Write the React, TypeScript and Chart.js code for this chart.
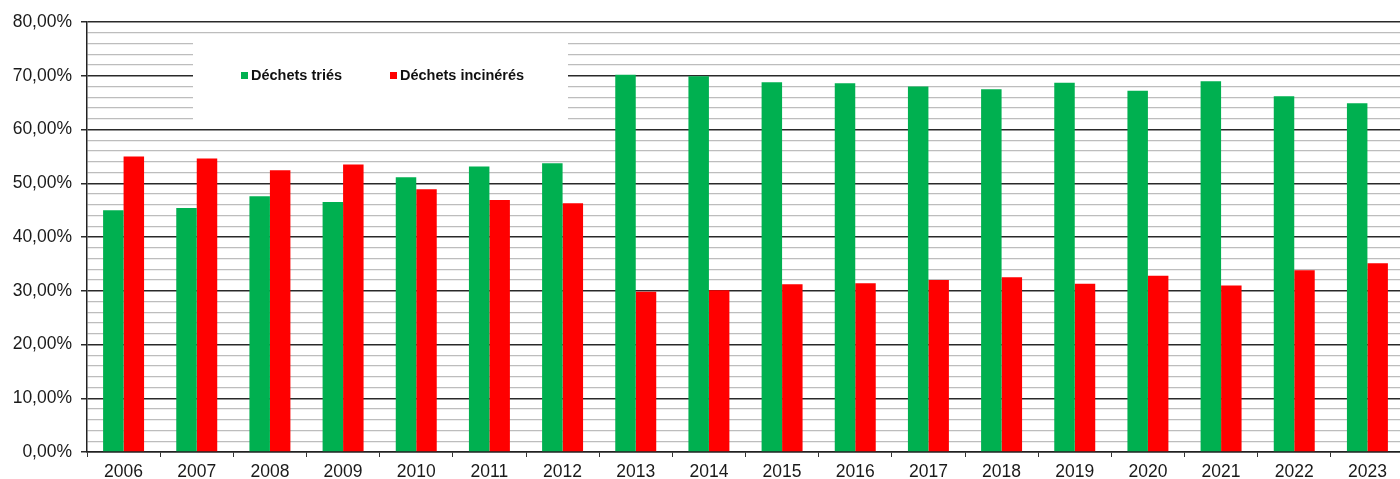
import React, { useEffect, useRef } from "react";
import { Chart, registerables } from "chart.js";

Chart.register(...registerables);

const years = ["2006","2007","2008","2009","2010","2011","2012","2013","2014","2015","2016","2017","2018","2019","2020","2021","2022","2023"];
const triés = [45.0,45.4,47.6,46.5,51.1,53.1,53.7,70.2,69.9,68.8,68.6,68.0,67.5,68.7,67.2,69.0,66.2,64.9];
const incinérés = [55.0,54.6,52.4,53.5,48.9,46.9,46.3,29.8,30.1,31.2,31.4,32.0,32.5,31.3,32.8,31.0,33.8,35.1];
const seriesNames = ["Déchets triés", "Déchets incinérés"];
const seriesColors = ["#00b050", "#ff0000"];

const FONT = "'Liberation Sans', Arial, sans-serif";

const legendBox = {
  id: "legendBox",
  afterDatasetsDraw(chart: any) {
    const ctx = chart.ctx;
    ctx.save();
    ctx.fillStyle = "#ffffff";
    ctx.fillRect(193, 34, 375, 93);
    ctx.font = `bold 14.5px ${FONT}`;
    ctx.textBaseline = "middle";
    ctx.textAlign = "left";
    const items = [
      { x: 241, label: seriesNames[0], color: seriesColors[0] },
      { x: 390, label: seriesNames[1], color: seriesColors[1] },
    ];
    for (const it of items) {
      ctx.fillStyle = it.color;
      ctx.fillRect(it.x, 72, 7, 7);
      ctx.fillStyle = "#111";
      ctx.fillText(it.label, it.x + 10, 76);
    }
    ctx.restore();
  },
};

export default function App() {
  const ref = useRef<HTMLCanvasElement>(null);
  useEffect(() => {
    if (!ref.current) return;
    const chart = new Chart(ref.current, {
      type: "bar",
      data: {
        labels: years,
        datasets: [
          { label: seriesNames[0], data: triés, backgroundColor: seriesColors[0], categoryPercentage: 0.56, barPercentage: 1 },
          { label: seriesNames[1], data: incinérés, backgroundColor: seriesColors[1], categoryPercentage: 0.56, barPercentage: 1 },
        ],
      },
      options: {
        animation: false,
        responsive: false,
        maintainAspectRatio: false,
        layout: { padding: { top: 22, right: 0, left: 0, bottom: 0 } },
        plugins: { legend: { display: false }, tooltip: { enabled: false } },
        scales: {
          x: {
            offset: true,
            grid: { offset: true, drawOnChartArea: false, drawTicks: true, tickLength: 5, color: "#333", lineWidth: 1 },
            border: { display: true, color: "#222", width: 1.5 },
            ticks: { color: "#1a1a1a", font: { family: FONT, size: 17.5 }, padding: 5, maxRotation: 0 },
            afterFit(scale: any) { scale.height = 27; },
          },
          y: {
            min: 0,
            max: 80,
            ticks: {
              stepSize: 2,
              autoSkip: false,
              color: "#1a1a1a",
              font: { family: FONT, size: 17.5 },
              padding: 9,
              callback: (v: any) => (Number(v) % 10 === 0 ? Number(v).toFixed(2).replace(".", ",") + "%" : ""),
            },
            grid: {
              color: (c: any) => (c.tick && c.tick.value % 10 === 0 ? "#2a2a2a" : "#bdbdbd"),
              lineWidth: (c: any) => (c.tick && c.tick.value % 10 === 0 ? 1.5 : 1.3),
              tickColor: (c: any) => (c.tick && c.tick.value % 10 === 0 ? "#2a2a2a" : "rgba(0,0,0,0)"),
              tickLength: 6,
            },
            border: { display: true, color: "#222", width: 1.5 },
            afterFit(scale: any) { scale.width = 87; },
          },
        },
      },
      plugins: [legendBox],
    });
    return () => chart.destroy();
  }, []);
  return (
    <div style={{ position: "absolute", left: 0, top: 0, width: 1404, height: 479, overflow: "hidden", background: "#fff" }}>
      <canvas ref={ref} width={1404} height={479} style={{ width: 1404, height: 479, display: "block" }} />
    </div>
  );
}
